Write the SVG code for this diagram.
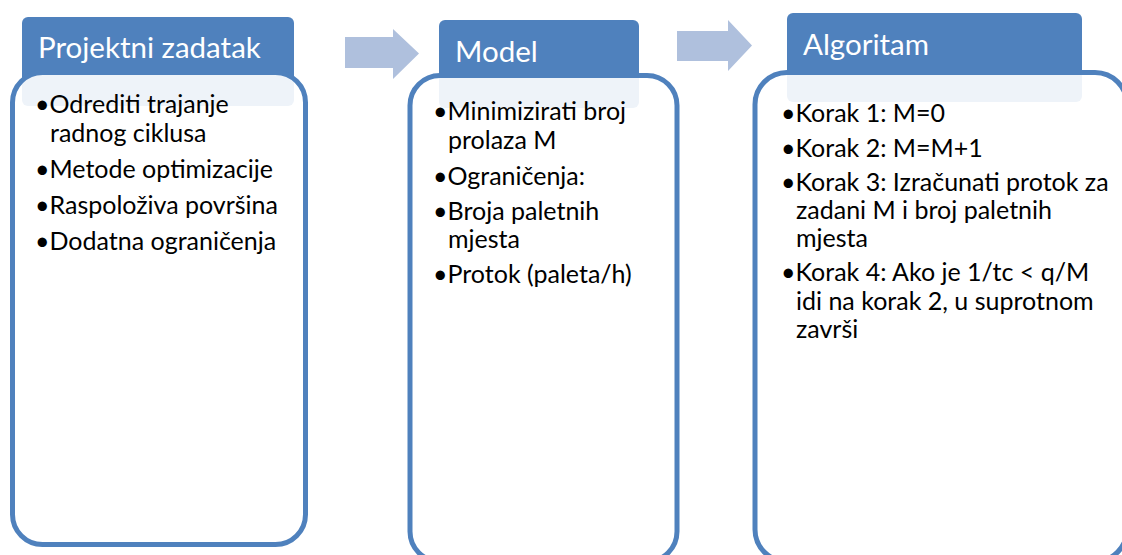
<svg xmlns="http://www.w3.org/2000/svg" width="1122" height="555" viewBox="0 0 1122 555">
<style>
.hdr{fill:#4f81bd}
.body{fill:#ffffff;fill-opacity:0.9;stroke:#4f81bd;stroke-width:5}
.ht{font-family:"Lato","Liberation Sans",sans-serif;font-size:29.5px;fill:#ffffff}
.bt{font-family:"Lato","Liberation Sans",sans-serif;font-size:25px;fill:#000000}
.arr{fill:#afc0dd}
</style>
<rect width="1122" height="555" fill="#ffffff"/>
<g id="connectors">
<polygon class="arr" points="345,37 393,37 393,29 419,53.5 393,79 393,68 345,68"/>
<polygon class="arr" points="677,31 728,31 728,20 752,45.5 728,71 728,61 677,61"/>
</g>
<g id="node-projektni-zadatak">
<rect class="hdr" x="22" y="17" width="272" height="89" rx="6"/>
<rect class="body" x="12.5" y="72.5" width="293" height="472" rx="30"/>
<text class="ht" x="38" y="58">Projektni zadatak</text>
<text class="bt">
<tspan x="35" y="113">•Odrediti trajanje</tspan>
<tspan x="50" y="142">radnog ciklusa</tspan>
<tspan x="35" y="177.5">•Metode optimizacije</tspan>
<tspan x="35" y="213.5">•Raspoloživa površina</tspan>
<tspan x="35" y="249.5">•Dodatna ograničenja</tspan>
</text>
</g>
<g id="node-model">
<rect class="hdr" x="439" y="20" width="200" height="88" rx="6"/>
<rect class="body" x="410" y="75.5" width="267" height="486" rx="30"/>
<text class="ht" x="455" y="62">Model</text>
<text class="bt">
<tspan x="433" y="120">•Minimizirati broj</tspan>
<tspan x="448" y="149">prolaza M</tspan>
<tspan x="433" y="184.5">•Ograničenja:</tspan>
<tspan x="433" y="219.5">•Broja paletnih</tspan>
<tspan x="448" y="248">mjesta</tspan>
<tspan x="433" y="283">•Protok (paleta/h)</tspan>
</text>
</g>
<g id="node-algoritam">
<rect class="hdr" x="787" y="13" width="295" height="89" rx="6"/>
<rect class="body" x="755" y="72.5" width="372" height="489" rx="32"/>
<text class="ht" x="803" y="55">Algoritam</text>
<text class="bt">
<tspan x="781" y="121.5">•Korak 1: M=0</tspan>
<tspan x="781" y="156.5">•Korak 2: M=M+1</tspan>
<tspan x="781" y="190.5">•Korak 3: Izračunati protok za</tspan>
<tspan x="796" y="218.5">zadani M i broj paletnih</tspan>
<tspan x="796" y="246.5">mjesta</tspan>
<tspan x="781" y="281">•Korak 4: Ako je 1/tc &lt; q/M</tspan>
<tspan x="796" y="309.5">idi na korak 2, u suprotnom</tspan>
<tspan x="796" y="338">završi</tspan>
</text>
</g>
</svg>
